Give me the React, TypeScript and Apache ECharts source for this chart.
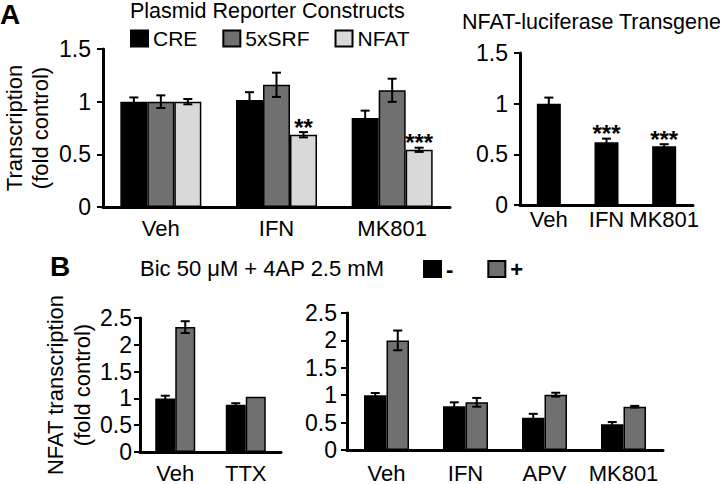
import React, { useEffect, useRef } from "react";
import * as echarts from "echarts";

const FONT = '"Liberation Sans", Arial, Helvetica, sans-serif';

// Panel A – plasmid reporter constructs
const catsA = ["Veh", "IFN", "MK801"];
const creVals = [1.0, 1.015, 0.845];
const creErr = [0.04, 0.075, 0.07];
const srfVals = [1.0, 1.16, 1.108];
const srfErr = [0.06, 0.115, 0.11];
const nfatVals = [1.0, 0.686, 0.543];
const nfatErr = [0.025, 0.025, 0.02];
const nfatStars = ["", "**", "***"];

// Panel A – NFAT-luciferase transgene
const catsTg = ["Veh", "IFN", "MK801"];
const tgVals = [1.0, 0.62, 0.58];
const tgErr = [0.06, 0.035, 0.02];
const tgStars = ["", "***", "***"];

// Panel B – left
const catsB1 = ["Veh", "TTX"];
const b1Minus = [1.0, 0.88];
const b1MinusErr = [0.05, 0.03];
const b1Plus = [2.33, 1.03];
const b1PlusErr = [0.11, 0];

// Panel B – right
const catsB2 = ["Veh", "IFN", "APV", "MK801"];
const b2Minus = [1.0, 0.8, 0.59, 0.47];
const b2MinusErr = [0.04, 0.07, 0.07, 0.04];
const b2Plus = [2.0, 0.87, 1.01, 0.79];
const b2PlusErr = [0.18, 0.08, 0.035, 0.015];

const yMaxA = 1.5;
const yMaxB = 2.5;
const yStep = 0.5;

const BLACK = "#000000";
const GRAY = "#707070";
const LIGHT = "#d9d9d9";

function errSeries(
  xi: number,
  vals: number[],
  errs: number[],
  offset: number,
  stars?: string[]
) {
  return {
    type: "custom",
    xAxisIndex: xi,
    yAxisIndex: xi,
    z: 10,
    silent: true,
    data: vals.map((v, i) => [i, v, errs[i]]),
    renderItem: (params: any, api: any) => {
      const i = api.value(0);
      const m = api.value(1);
      const e = api.value(2);
      const p = api.coord([i, m]);
      const top = api.coord([i, m + e]);
      const bot = api.coord([i, m - e]);
      const x = p[0] + offset;
      const children: any[] = [];
      const st = { stroke: "#000", lineWidth: 2 };
      if (e > 0) {
        children.push({ type: "line", shape: { x1: x, y1: top[1], x2: x, y2: bot[1] }, style: st });
        children.push({ type: "line", shape: { x1: x - 4.5, y1: top[1], x2: x + 4.5, y2: top[1] }, style: st });
        children.push({ type: "line", shape: { x1: x - 4.5, y1: bot[1], x2: x + 4.5, y2: bot[1] }, style: st });
      }
      const s = stars ? stars[params.dataIndex] : "";
      if (s) {
        children.push({
          type: "text",
          x: x,
          y: top[1] - 5,
          style: {
            text: s,
            fill: "#000",
            font: `bold 24px ${FONT}`,
            align: "center",
            verticalAlign: "middle",
          },
        });
      }
      return { type: "group", children };
    },
  };
}

function barSeries(name: string, xi: number, vals: number[], color: string, width: number) {
  return {
    type: "bar",
    name,
    xAxisIndex: xi,
    yAxisIndex: xi,
    data: vals,
    barWidth: width,
    barGap: "0%",
    itemStyle: { color, borderColor: "#000", borderWidth: 1.5 },
    silent: true,
  };
}

function xAxis(grid: number, data: string[], margin: number) {
  return {
    type: "category",
    gridIndex: grid,
    data,
    axisLine: { lineStyle: { color: "#000", width: 3 } },
    axisTick: { show: false },
    axisLabel: { color: "#000", fontSize: 22, fontFamily: FONT, margin, interval: 0, hideOverlap: false },
  };
}

function yAxis(grid: number, max: number, margin: number, extra: any = {}) {
  return {
    type: "value",
    gridIndex: grid,
    min: 0,
    max,
    interval: yStep,
    splitLine: { show: false },
    axisLine: { show: true, lineStyle: { color: "#000", width: 3 } },
    axisTick: { show: true, length: 6, lineStyle: { color: "#000", width: 2 } },
    axisLabel: { color: "#000", fontSize: 23, fontFamily: FONT, margin },
    ...extra,
  };
}

export default function App() {
  const ref = useRef<HTMLDivElement>(null);
  useEffect(() => {
    if (!ref.current) return;
    const chart = echarts.init(ref.current, undefined, { renderer: "svg" });
    const titleStyle = { color: "#000", fontSize: 21.5, fontWeight: "normal", fontFamily: FONT };
    chart.setOption({
      animation: false,
      backgroundColor: "#fff",
      title: [
        { text: "A", left: 0, top: 0, padding: 0, textStyle: { color: "#000", fontSize: 28, fontWeight: "bold", fontFamily: FONT } },
        { text: "Plasmid Reporter Constructs", left: 130, top: 0, padding: 0, textStyle: titleStyle },
        { text: "NFAT-luciferase Transgene", left: 462, top: 11, padding: 0, textStyle: titleStyle },
        { text: "B", left: 50, top: 252, padding: 0, textStyle: { color: "#000", fontSize: 28, fontWeight: "bold", fontFamily: FONT } },
        { text: "Bic 50 \u03bcM + 4AP 2.5 mM", left: 140, top: 257, padding: 0, textStyle: { ...titleStyle, fontSize: 22 } },
      ],
      legend: [
        {
          data: ["CRE", "5xSRF", "NFAT"],
          left: 130,
          top: 28,
          padding: 0,
          itemWidth: 17,
          itemHeight: 16,
          itemGap: 25,
          icon: "rect",
          selectedMode: false,
          textStyle: { color: "#000", fontSize: 21, fontFamily: FONT },
        },
        {
          data: ["-", "+"],
          left: 423,
          top: 258,
          padding: 0,
          itemWidth: 17,
          itemHeight: 16,
          itemGap: 34,
          icon: "rect",
          selectedMode: false,
          textStyle: { color: "#000", fontSize: 22, fontWeight: "bold", fontFamily: FONT },
        },
      ],
      grid: [
        { left: 95, top: 49, width: 355, height: 158 },
        { left: 520, top: 53, width: 173, height: 152 },
        { left: 140, top: 318, width: 141, height: 137 },
        { left: 347, top: 313, width: 316, height: 140 },
      ],
      xAxis: [xAxis(0, catsA, 10), xAxis(1, catsTg, 3), xAxis(2, catsB1, 10), xAxis(3, catsB2, 12)],
      yAxis: [
        yAxis(0, yMaxA, 12, {
          name: "Transcription\n(fold control)",
          nameLocation: "middle",
          nameRotate: 90,
          nameGap: 50,
          nameTextStyle: { color: "#000", fontSize: 22, lineHeight: 26, fontFamily: FONT },
        }),
        yAxis(1, yMaxA, 12),
        yAxis(2, yMaxB, 8, {
          name: "NFAT transcription\n(fold control)",
          nameLocation: "middle",
          nameRotate: 90,
          nameGap: 40,
          nameTextStyle: { color: "#000", fontSize: 22, lineHeight: 27, fontFamily: FONT },
        }),
        yAxis(3, yMaxB, 10),
      ],
      series: [
        barSeries("CRE", 0, creVals, BLACK, 27),
        barSeries("5xSRF", 0, srfVals, GRAY, 27),
        barSeries("NFAT", 0, nfatVals, LIGHT, 27),
        errSeries(0, creVals, creErr, -27),
        errSeries(0, srfVals, srfErr, 0),
        errSeries(0, nfatVals, nfatErr, 27, nfatStars),
        barSeries("Transgene", 1, tgVals, BLACK, 24),
        errSeries(1, tgVals, tgErr, 0, tgStars),
        barSeries("-", 2, b1Minus, BLACK, 20),
        barSeries("+", 2, b1Plus, GRAY, 20),
        errSeries(2, b1Minus, b1MinusErr, -10),
        errSeries(2, b1Plus, b1PlusErr, 10),
        barSeries("-", 3, b2Minus, BLACK, 22.5),
        barSeries("+", 3, b2Plus, GRAY, 22.5),
        errSeries(3, b2Minus, b2MinusErr, -11.25),
        errSeries(3, b2Plus, b2PlusErr, 11.25),
      ],
    });
    return () => chart.dispose();
  }, []);
  return (
    <div
      ref={ref}
      style={{ position: "fixed", left: 0, top: 0, width: 720, height: 484, background: "#fff" }}
    />
  );
}
